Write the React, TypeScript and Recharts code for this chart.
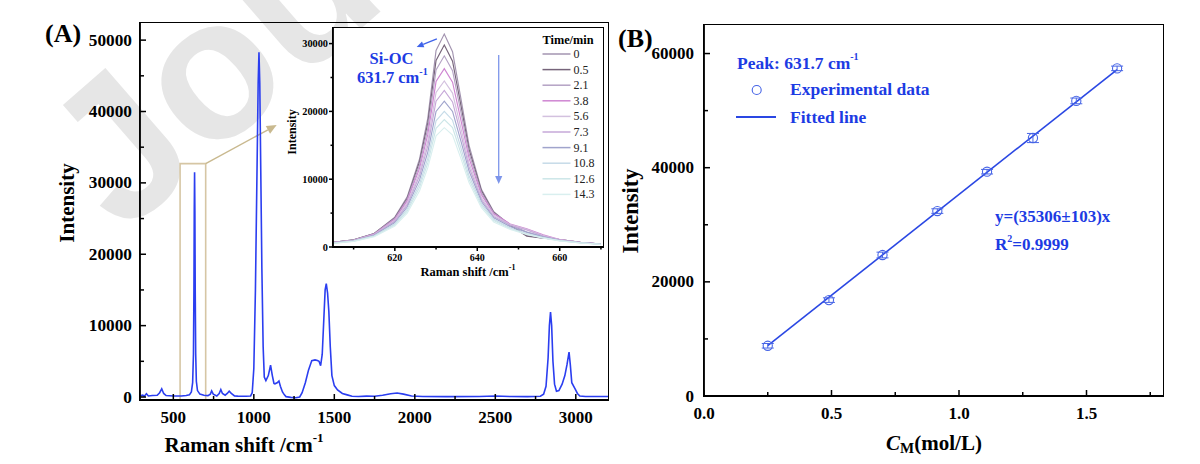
import React from 'react';
import {
  LineChart, Line, XAxis, YAxis, ReferenceArea, ReferenceLine,
  ComposedChart, Scatter, ErrorBar, CartesianGrid,
} from 'recharts';

const FONT = '"Liberation Serif", "Times New Roman", serif';
const BLUE_TEXT = '#1c3be3';
const SPEC_BLUE = '#2b3ef0';
const INK = 'black';

// ---------- Panel A: full Raman spectrum ----------
const ramanShift = [
  293, 310, 320, 333, 345, 370, 400, 415, 428, 440, 455, 500, 550, 580, 600, 612, 620, 625, 628, 630,
  632, 634, 636, 639, 643, 650, 665, 690, 715, 730, 738, 748, 770, 785, 795, 805, 822, 835, 847, 860,
  880, 900, 950, 980, 990, 1000, 1010, 1020, 1027, 1032, 1037, 1043, 1050, 1058, 1065, 1075, 1090, 1104, 1115, 1125,
  1131, 1145, 1156, 1165, 1178, 1190, 1200, 1230, 1260, 1285, 1300, 1320, 1340, 1360, 1380, 1395, 1405, 1415, 1425, 1435,
  1443, 1450, 1458, 1466, 1475, 1485, 1500, 1520, 1550, 1580, 1610, 1650, 1700, 1750, 1800, 1850, 1890, 1930, 1980, 2050,
  2200, 2400, 2500, 2600, 2700, 2780, 2800, 2815, 2828, 2836, 2843, 2850, 2858, 2868, 2880, 2895, 2915, 2932, 2945, 2958,
  2966, 2975, 2994, 3010, 3025, 3060, 3120, 3200,
];
const ramanIntensity = [
  150, 250, 100, 450, 150, 200, 250, 600, 1150, 500, 200, 150, 150, 200, 300, 700, 2000, 6000, 15000, 26000,
  31500, 26000, 15000, 6000, 2200, 900, 400, 250, 200, 400, 850, 400, 150, 500, 1050, 500, 250, 500, 800, 500,
  150, 120, 100, 150, 600, 4000, 15000, 32000, 44000, 48300, 44000, 32000, 18000, 7000, 2800, 2300, 3000, 4450, 3000, 1900,
  1850, 2000, 2250, 1500, 700, 300, 50, -50, -100, 0, 600, 2000, 3800, 5100, 5200, 5100, 5000, 4400, 6000, 11000,
  15000, 15900, 14600, 12000, 7000, 3000, 1600, 1000, 500, 300, 100, 80, 120, 100, 250, 450, 560, 400, 150, 80,
  50, 60, 150, 60, 50, 100, 400, 1500, 5500, 10000, 11900, 10000, 5000, 1800, 800, 900, 1800, 3000, 4500, 6300,
  4500, 2000, 1200, 500, 150, 80, 60, 60,
];
const mainXDomain = [293, 3200];
const mainYDomain = [-420, 52400];
const mainXTicks = [500, 750, 1000, 1250, 1500, 1750, 2000, 2250, 2500, 2750, 3000];
const mainXMajor = [500, 1000, 1500, 2000, 2500, 3000];
const mainYTicks = [0, 5000, 10000, 15000, 20000, 25000, 30000, 35000, 40000, 45000, 50000];
const mainYMajor = [0, 10000, 20000, 30000, 40000, 50000];

// zoom box and pointer arrow (data coordinates)
const zoomBoxShift = [542, 701];
const zoomBoxIntensity = [-420, 32700];
const pointerArrow = [{ x: 701, y: 32700 }, { x: 1142, y: 38100 }];

// ---------- Inset: Si-OC peak vs time ----------
const insetShift = [605, 610, 615, 620, 623, 626, 628, 630, 632, 634, 636, 638, 641, 644, 648, 652, 656, 660, 665, 670];
const insetTimes = ['0', '0.5', '2.1', '3.8', '5.6', '7.3', '9.1', '10.8', '12.6', '14.3'];
const insetColors = ['#a394b0', '#76647a', '#b4a2c4', '#cf86d2', '#d3c1df', '#c6a8d8', '#a0a4cc', '#c6dbe8', '#cce6e8', '#d9efef'];
const insetT00 = [700, 1050, 2000, 4400, 7400, 13000, 19000, 29000, 31400, 28800, 22000, 15000, 8500, 5200, 3200, 1700, 1300, 1100, 700, 450];
const insetT05 = [700, 1050, 2000, 4300, 7200, 12600, 18300, 27500, 29800, 27400, 21000, 14400, 8300, 5100, 3200, 1600, 1300, 1100, 700, 450];
const insetT21 = [680, 1020, 1950, 4200, 7000, 12100, 17500, 26100, 28200, 26000, 20000, 13800, 8000, 5000, 3300, 2200, 1500, 1100, 700, 450];
const insetT38 = [660, 1000, 1900, 4100, 6800, 11600, 16600, 24400, 26300, 24300, 18800, 13100, 7700, 4900, 3400, 2700, 1800, 1100, 700, 450];
const insetT56 = [640, 980, 1850, 3950, 6500, 11000, 15700, 22800, 24500, 22700, 17600, 12400, 7300, 4700, 3300, 2600, 1700, 1050, 680, 440];
const insetT73 = [620, 950, 1800, 3800, 6200, 10500, 14900, 21500, 23100, 21400, 16700, 11800, 7000, 4500, 3200, 2500, 1600, 1050, 670, 430];
const insetT91 = [600, 920, 1720, 3600, 5900, 9900, 14000, 20000, 21500, 20000, 15700, 11200, 6700, 4300, 3000, 2200, 1500, 1000, 650, 420];
const insetT108 = [580, 890, 1650, 3400, 5600, 9300, 13100, 18600, 20000, 18700, 14700, 10500, 6400, 4100, 2800, 2000, 1400, 950, 630, 410];
const insetT126 = [560, 860, 1580, 3250, 5300, 8800, 12400, 17500, 18800, 17600, 13900, 10000, 6100, 3900, 2700, 1900, 1350, 920, 610, 400];
const insetT143 = [540, 830, 1500, 3100, 5000, 8300, 11700, 16400, 17600, 16500, 13100, 9500, 5800, 3700, 2600, 1850, 1300, 900, 600, 390];
const insetSeries = [insetT00, insetT05, insetT21, insetT38, insetT56, insetT73, insetT91, insetT108, insetT126, insetT143];
const insetXDomain = [605, 670.5];
const insetYDomain = [0, 32300];
const insetXTicks = [610, 620, 630, 640, 650, 660, 670];
const insetXMajor = [620, 640, 660];
const insetYTicks = [0, 5000, 10000, 15000, 20000, 25000, 30000];
const insetYMajor = [0, 10000, 20000, 30000];
const siocArrow = [{ x: 630.2, y: 30700 }, { x: 625.3, y: 29500 }];
const decayArrow = [{ x: 645.2, y: 28300 }, { x: 645.2, y: 9300 }];

// ---------- Panel B: calibration ----------
const concentration = [0.25, 0.49, 0.70, 0.915, 1.11, 1.29, 1.46, 1.62];
const peakIntensity = [8800, 16800, 24700, 32400, 39300, 45200, 51700, 57400];
const intensityError = [400, 400, 500, 400, 400, 800, 500, 400];
const fitConc = [0.25, 1.62];
const fitIntensity = [8830, 57200];
const bXDomain = [0, 1.8];
const bYDomain = [0, 65000];
const bXTicks = [0, 0.25, 0.5, 0.75, 1.0, 1.25, 1.5, 1.75];
const bXMajor = [0, 0.5, 1.0, 1.5];
const bYTicks = [0, 10000, 20000, 30000, 40000, 50000, 60000];
const bYMajor = [0, 20000, 40000, 60000];

// ---------- layout (chart boxes) ----------
type Box = { left: number; top: number; width: number; height: number; yAxisW: number; xAxisH: number; mTop: number; mRight: number };
const mainBox: Box = { left: 0, top: 0, width: 620, height: 464, yAxisW: 140, xAxisH: 64, mTop: 23, mRight: 12 };
const insetBox: Box = { left: 280, top: 0, width: 330, height: 290, yAxisW: 53, xAxisH: 43, mTop: 28, mRight: 7 };
const calBox: Box = { left: 600, top: 0, width: 600, height: 464, yAxisW: 104, xAxisH: 68, mTop: 25, mRight: 37 };
const plotRect = (b: Box) => ({
  x: b.left + b.yAxisW,
  y: b.top + b.mTop,
  w: b.width - b.yAxisW - b.mRight,
  h: b.height - b.mTop - b.xAxisH,
});

// ---------- rows ----------
const mainRows = ramanShift.map((s, i) => ({ shift: s, intensity: ramanIntensity[i] }));
const insetRows = insetShift.map((s, i) => {
  const row: any = { shift: s };
  insetSeries.forEach((arr, k) => { row['t' + k] = arr[i]; });
  return row;
});
const scatterRows = concentration.map((c, i) => ({ c, intensity: peakIntensity[i], err: intensityError[i] }));
const fitRows = fitConc.map((c, i) => ({ c, fit: fitIntensity[i] }));

type TickOpts = {
  axis: 'x' | 'y';
  len: number; minorLen: number; gap: number; majors: number[];
  fontSize: number; fmt?: (v: number) => string;
};
function makeTick(o: TickOpts) {
  return (props: any) => {
    const { x, y, payload } = props;
    const v = payload.value;
    const major = o.majors.some((m) => Math.abs(m - v) < 1e-9);
    const L = major ? o.len : o.minorLen;
    const label = o.fmt ? o.fmt(v) : String(v);
    if (o.axis === 'y') {
      return (
        <g>
          <rect x={L >= 0 ? x : x + L} y={y - 0.75} width={Math.abs(L)} height={1.5} fill={INK} />
          {major && (
            <text x={x - o.gap} y={y} textAnchor="end" dominantBaseline="central"
              fontFamily={FONT} fontWeight={700} fontSize={o.fontSize} fill="#000">{label}</text>
          )}
        </g>
      );
    }
    return (
      <g>
        <rect x={x - 0.75} y={L >= 0 ? y - L : y} width={1.5} height={Math.abs(L)} fill={INK} />
        {major && (
          <text x={x} y={y + o.gap} textAnchor="middle" dominantBaseline="central"
            fontFamily={FONT} fontWeight={700} fontSize={o.fontSize} fill="#000">{label}</text>
        )}
      </g>
    );
  };
}

const arrowShape = (color: string, width: number, head: number) => (p: any) => {
  const { x1, y1, x2, y2 } = p;
  if ([x1, y1, x2, y2].some((v) => typeof v !== 'number' || isNaN(v))) return <g />;
  const ang = Math.atan2(y2 - y1, x2 - x1);
  const hw = head * 0.45;
  const bx = x2 - head * Math.cos(ang);
  const by = y2 - head * Math.sin(ang);
  const px = -Math.sin(ang) * hw;
  const py = Math.cos(ang) * hw;
  return (
    <g>
      <line x1={x1} y1={y1} x2={bx} y2={by} stroke={color} strokeWidth={width} />
      <polygon points={`${x2},${y2} ${bx + px},${by + py} ${bx - px},${by - py}`} fill={color} />
    </g>
  );
};

const axisStyle = { stroke: INK, strokeWidth: 1.8 };
const margins = (b: Box) => ({ top: b.mTop, right: b.mRight, bottom: 0, left: 0 });

function MainChart() {
  return (
    <LineChart width={mainBox.width} height={mainBox.height} data={mainRows} margin={margins(mainBox)}>
      <XAxis dataKey="shift" type="number" domain={mainXDomain} allowDataOverflow ticks={mainXTicks} interval={0}
        height={mainBox.xAxisH} tickSize={0} tickMargin={0} axisLine={axisStyle} tickLine={false}
        tick={makeTick({ axis: 'x', len: 6, minorLen: 4, gap: 17, majors: mainXMajor, fontSize: 17 })} />
      <YAxis type="number" domain={mainYDomain} allowDataOverflow ticks={mainYTicks} interval={0}
        width={mainBox.yAxisW} tickSize={0} tickMargin={0} axisLine={axisStyle} tickLine={false}
        tick={makeTick({ axis: 'y', len: 6, minorLen: 4, gap: 8, majors: mainYMajor, fontSize: 17.3 })} />
      <ReferenceArea x1={zoomBoxShift[0]} x2={zoomBoxShift[1]} y1={zoomBoxIntensity[0]} y2={zoomBoxIntensity[1]}
        fill="none" fillOpacity={0} stroke="#d6c6a4" strokeWidth={1.6} />
      <ReferenceLine segment={pointerArrow} stroke="#c9b98f" shape={arrowShape('#c9b98f', 1.4, 10)} />
      <Line type="linear" dataKey="intensity" stroke={SPEC_BLUE} strokeWidth={1.6} dot={false} isAnimationActive={false} />
    </LineChart>
  );
}

function InsetChart() {
  return (
    <LineChart width={insetBox.width} height={insetBox.height} data={insetRows} margin={margins(insetBox)}>
      <CartesianGrid horizontal={false} vertical={false} fill="#ffffff" fillOpacity={1} />
      <XAxis dataKey="shift" type="number" domain={insetXDomain} allowDataOverflow ticks={insetXTicks} interval={0}
        height={insetBox.xAxisH} tickSize={0} tickMargin={0} axisLine={axisStyle} tickLine={false}
        tick={makeTick({ axis: 'x', len: -4, minorLen: -2.5, gap: 10, majors: insetXMajor, fontSize: 10 })} />
      <YAxis type="number" domain={insetYDomain} allowDataOverflow ticks={insetYTicks} interval={0}
        width={insetBox.yAxisW} tickSize={0} tickMargin={0} axisLine={axisStyle} tickLine={false}
        tick={makeTick({ axis: 'y', len: -4, minorLen: -2.5, gap: 5, majors: insetYMajor, fontSize: 10.3 })} />
      {insetTimes.map((t, k) => (
        <Line key={t} type="linear" dataKey={'t' + k} stroke={insetColors[k]} strokeWidth={1.15} dot={false} isAnimationActive={false} />
      ))}
      <ReferenceLine segment={siocArrow} stroke="#3f63ea" shape={arrowShape('#3f63ea', 1.3, 7)} />
      <ReferenceLine segment={decayArrow} stroke="#7d95ea" shape={arrowShape('#7d95ea', 1.3, 8)} />
    </LineChart>
  );
}

function CalibrationChart() {
  const fmt = (v: number) => (v === 0 ? '0' : String(v));
  return (
    <ComposedChart width={calBox.width} height={calBox.height} margin={margins(calBox)}>
      <XAxis dataKey="c" type="number" domain={bXDomain} allowDataOverflow ticks={bXTicks} interval={0}
        height={calBox.xAxisH} tickSize={0} tickMargin={0} axisLine={axisStyle} tickLine={false}
        tick={makeTick({ axis: 'x', len: 6, minorLen: 4, gap: 17, majors: bXMajor, fontSize: 17, fmt: (v) => v.toFixed(1) })} />
      <YAxis type="number" domain={bYDomain} allowDataOverflow ticks={bYTicks} interval={0}
        width={calBox.yAxisW} tickSize={0} tickMargin={0} axisLine={axisStyle} tickLine={false}
        tick={makeTick({ axis: 'y', len: 6, minorLen: 4, gap: 10, majors: bYMajor, fontSize: 17, fmt })} />
      <Line data={fitRows} type="linear" dataKey="fit" stroke="#2a47e3" strokeWidth={1.6} dot={false} isAnimationActive={false} />
      <Scatter data={scatterRows} dataKey="intensity" isAnimationActive={false}
        shape={(p: any) => <circle cx={p.cx} cy={p.cy} r={4.6} fill="none" stroke="#4664e6" strokeWidth={1.1} />}>
        <ErrorBar dataKey="err" direction="y" width={6} stroke="#4664e6" strokeWidth={1} />
      </Scatter>
    </ComposedChart>
  );
}

// plot frames as plain HTML borders, aligned with each chart's plot area
function FrameDiv({ box }: { box: Box }) {
  const r = plotRect(box);
  const bw = 1.5;
  return (
    <div style={{
      position: 'absolute', left: r.x - bw / 2, top: r.y - bw / 2, width: r.w, height: r.h,
      border: `${bw}px solid #000`, boxSizing: 'content-box', pointerEvents: 'none',
    }} />
  );
}

function Overlay() {
  const bold = { fontFamily: FONT, fontWeight: 700 } as const;
  return (
    <svg width={1200} height={464} style={{ position: 'absolute', left: 0, top: 0, pointerEvents: 'none' }}>
      {/* Panel A labels */}
      <text x={45} y={33} dominantBaseline="central" fontSize={26} {...bold}>(A)</text>
      <text transform="translate(67,203) rotate(-90)" textAnchor="middle" dominantBaseline="central" fontSize={21} {...bold}>Intensity</text>
      <text x={244} y={445} textAnchor="middle" dominantBaseline="central" fontSize={21} {...bold}>
        Raman shift /cm<tspan dy={-8} fontSize={13}>-1</tspan>
      </text>
      {/* Inset labels */}
      <text transform="translate(292,132) rotate(-90)" textAnchor="middle" dominantBaseline="central" fontSize={12} {...bold}>Intensity</text>
      <text x={468} y={272} textAnchor="middle" dominantBaseline="central" fontSize={12.5} {...bold}>
        Raman shift /cm<tspan dy={-5} fontSize={8}>-1</tspan>
      </text>
      <text x={391.5} y={58.5} textAnchor="middle" dominantBaseline="central" fontSize={16.5} fill={BLUE_TEXT} {...bold}>Si-OC</text>
      <text x={357} y={77} dominantBaseline="central" fontSize={16.5} fill={BLUE_TEXT} {...bold}>
        631.7 cm<tspan dy={-6} fontSize={10}>-1</tspan>
      </text>
      {/* Inset legend */}
      <text x={542.5} y={39.5} dominantBaseline="central" fontSize={12.3} {...bold}>Time/min</text>
      {insetTimes.map((t, k) => (
        <g key={t}>
          <line x1={542.5} x2={570.5} y1={54 + k * 15.6} y2={54 + k * 15.6} stroke={insetColors[k]} strokeWidth={1.5} />
          <text x={573.5} y={54 + k * 15.6} dominantBaseline="central" fontSize={12} fontFamily={FONT} fill="#222">{t}</text>
        </g>
      ))}
      {/* Panel B labels */}
      <text x={618} y={38} dominantBaseline="central" fontSize={26} {...bold}>(B)</text>
      <text transform="translate(630.5,211) rotate(-90)" textAnchor="middle" dominantBaseline="central" fontSize={22.5} {...bold}>Intensity</text>
      <text x={934} y={443} textAnchor="middle" dominantBaseline="central" fontSize={21} {...bold}>
        <tspan fontStyle="italic">C</tspan><tspan dy={5} fontSize={15}>M</tspan><tspan dy={-5}>(mol/L)</tspan>
      </text>
      <text x={737} y={63} dominantBaseline="central" fontSize={17.5} fill={BLUE_TEXT} {...bold}>
        Peak: 631.7 cm<tspan dy={-7} fontSize={10}>-1</tspan>
      </text>
      <circle cx={756.7} cy={90} r={4.5} fill="none" stroke="#4664e6" strokeWidth={1.1} />
      <text x={790} y={89} dominantBaseline="central" fontSize={17.5} fill={BLUE_TEXT} {...bold}>Experimental data</text>
      <line x1={736} x2={776} y1={117} y2={117} stroke="#2a47e3" strokeWidth={1.8} />
      <text x={790} y={116.5} dominantBaseline="central" fontSize={17.5} fill={BLUE_TEXT} {...bold}>Fitted line</text>
      <text x={995} y={216.5} dominantBaseline="central" fontSize={17} fill={BLUE_TEXT} {...bold}>y=(35306±103)x</text>
      <text x={995} y={244} dominantBaseline="central" fontSize={17} fill={BLUE_TEXT} {...bold}>
        R<tspan dy={-6} fontSize={10}>2</tspan><tspan dy={6}>=0.9999</tspan>
      </text>
    </svg>
  );
}

function Watermark() {
  return (
    <svg width={1200} height={464} style={{ position: 'absolute', left: 0, top: 0 }}>
      <text transform="translate(122,236) rotate(-41)" fontSize={200} fontWeight={700}
        fontFamily='"Liberation Sans", Arial, sans-serif' fill="#e6e6e6">Jou</text>
    </svg>
  );
}

export default function App() {
  const place = (b: Box) => ({ position: 'absolute' as const, left: b.left, top: b.top });
  return (
    <div style={{ position: 'absolute', left: 0, top: 0, width: 1200, height: 464, background: '#fff', fontFamily: FONT, overflow: 'hidden' }}>
      <Watermark />
      <div style={place(mainBox)}><MainChart /></div>
      <div style={place(insetBox)}><InsetChart /></div>
      <div style={place(calBox)}><CalibrationChart /></div>
      <FrameDiv box={mainBox} />
      <FrameDiv box={insetBox} />
      <FrameDiv box={calBox} />
      <Overlay />
    </div>
  );
}
